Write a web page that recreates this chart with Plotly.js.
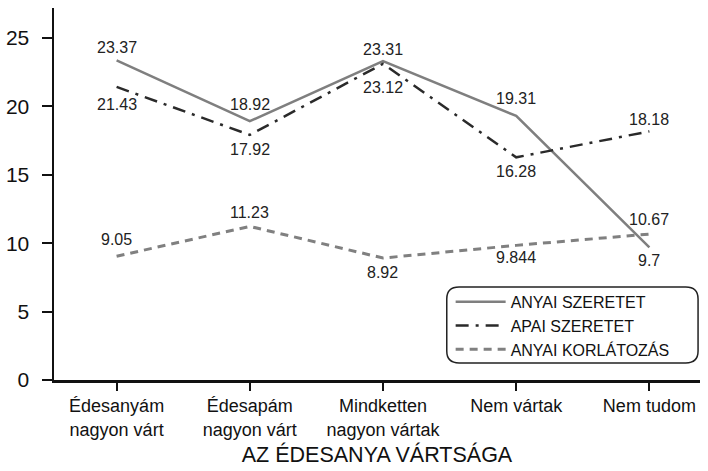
<!DOCTYPE html>
<html>
<head>
<meta charset="utf-8">
<script src="https://cdn.plot.ly/plotly-3.0.1.min.js"></script>
<style>html,body{margin:0;padding:0;background:#fff;}#chart{width:708px;height:471px;}</style>
</head>
<body>
<div id="chart"></div>
<script>
const categories = ['Édesanyám<br>nagyon várt', 'Édesapám<br>nagyon várt', 'Mindketten<br>nagyon vártak', 'Nem vártak', 'Nem tudom'];
const seriesNames = ['ANYAI SZERETET', 'APAI SZERETET', 'ANYAI KORLÁTOZÁS'];
const anyaiSzeretet = [23.37, 18.92, 23.31, 19.31, 9.7];
const apaiSzeretet = [21.43, 17.92, 23.12, 16.28, 18.18];
const anyaiKorlatozas = [9.05, 11.23, 8.92, 9.844, 10.67];
const yTicks = [0, 5, 10, 15, 20, 25];

// label vertical offsets in px (style only)
const anyaiShift = [13, 17, 12, 17, -13];
const apaiShift = [-18, -15, -24, -14, 12];
const korlShift = [17, 14, -14, -12, 15];

const F = 'Liberation Sans, Arial, sans-serif';
const labelFont = {family: F, size: 16, color: '#222'};

const traces = [
  {x: categories, y: anyaiSzeretet, name: seriesNames[0], mode: 'lines',
   line: {color: '#7f7f7f', width: 2.5}},
  {x: categories, y: apaiSzeretet, name: seriesNames[1], mode: 'lines',
   line: {color: '#2a2a2a', width: 2.5, dash: '13px,7px,3px,7px'}},
  {x: categories, y: anyaiKorlatozas, name: seriesNames[2], mode: 'lines',
   line: {color: '#808080', width: 3, dash: '8px,6px'}}
];

const annotations = [];
[[anyaiSzeretet, anyaiShift], [apaiSzeretet, apaiShift], [anyaiKorlatozas, korlShift]].forEach(([vals, shifts]) => {
  vals.forEach((v, i) => {
    annotations.push({x: categories[i], y: v, xref: 'x', yref: 'y', text: String(v),
      showarrow: false, yshift: shifts[i], font: labelFont, xanchor: 'center', yanchor: 'middle'});
  });
});

const layout = {
  width: 708, height: 471,
  margin: {l: 54, r: 8, t: 8, b: 91},
  paper_bgcolor: '#fff', plot_bgcolor: '#fff',
  showlegend: true,
  legend: {x: 0.614, y: 0.256, xanchor: 'left', yanchor: 'top', bgcolor: 'rgba(0,0,0,0)',
           borderwidth: 0, font: {family: F, size: 16, color: '#111'}, itemwidth: 50,
           tracegroupgap: 0},
  annotations: annotations,
  xaxis: {type: 'category', range: [-0.47, 4.38], showgrid: false, zeroline: false,
          showline: true, linecolor: '#111', linewidth: 2.5,
          ticks: 'outside', ticklen: 8, tickwidth: 2, tickcolor: '#111',
          tickfont: {family: F, size: 18, color: '#111'},
          title: {text: 'AZ ÉDESANYA VÁRTSÁGA', font: {family: F, size: 21.5, color: '#111'}, standoff: 9}},
  yaxis: {range: [0, 27.2], tickvals: yTicks, showgrid: false, zeroline: false,
          showline: true, linecolor: '#111', linewidth: 2.5,
          ticks: 'outside', ticklen: 10, tickwidth: 2, tickcolor: '#111',
          ticklabelstandoff: 8,
          tickfont: {family: F, size: 21, color: '#111'}},
  shapes: [{type: 'path', xref: 'paper', yref: 'paper',
    path: 'M 0.627 0.250 L 0.978 0.250 Q 0.997 0.250 0.997 0.218 L 0.997 0.078 Q 0.997 0.046 0.978 0.046 L 0.627 0.046 Q 0.608 0.046 0.608 0.078 L 0.608 0.218 Q 0.608 0.250 0.627 0.250 Z',
    line: {color: '#222', width: 1.5}, fillcolor: 'rgba(0,0,0,0)'}]
};

Plotly.newPlot('chart', traces, layout, {displayModeBar: false, staticPlot: true});
</script>
</body>
</html>
